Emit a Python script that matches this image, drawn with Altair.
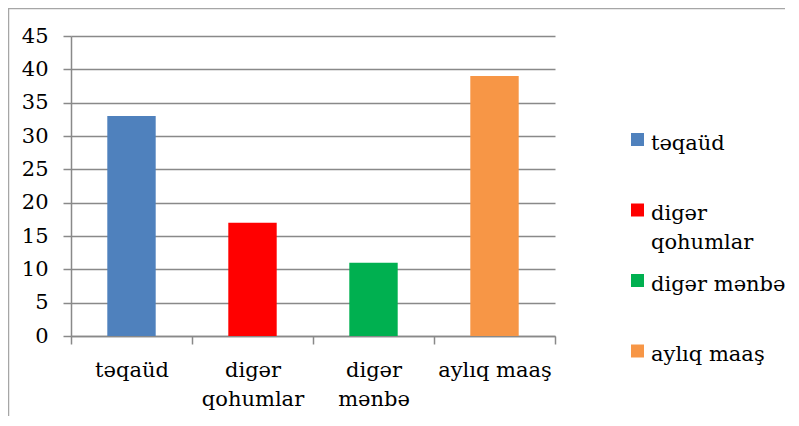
import altair as alt
import pandas as pd

categories = ["təqaüd", "digər qohumlar", "digər mənbə", "aylıq maaş"]
values = [33, 17, 11, 39]
colors = ["#4F81BD", "#FF0000", "#00B050", "#F79646"]
axis_labels = ["təqaüd", "digər\nqohumlar", "digər\nmənbə", "aylıq maaş"]
legend_labels = ["təqaüd", "digər\nqohumlar", "digər mənbə", "aylıq maaş"]
y_ticks = [0, 5, 10, 15, 20, 25, 30, 35, 40, 45]

df = pd.DataFrame({
    "cat": categories,
    "value": values,
    "xlab": axis_labels,
    "leg": legend_labels,
})

FONT = "DejaVu Serif"
FS = 21
GRAY = "#898989"
color_scale = alt.Scale(domain=categories, range=colors)

base = alt.Chart(df)

bars = base.mark_bar(width=alt.RelativeBandSize(0.4)).encode(
    x=alt.X("xlab:N", sort=axis_labels, title=None,
            scale=alt.Scale(paddingInner=0, paddingOuter=0),
            axis=alt.Axis(labelExpr="split(datum.label, '\\n')", labelAngle=0,
                          tickBand="extent", tickSize=8, labelPadding=15,
                          labelBaseline="top", labelLineHeight=29,
                          grid=False)),
    y=alt.Y("value:Q", title=None,
            scale=alt.Scale(domain=[0, 45], nice=False),
            axis=alt.Axis(values=y_ticks, tickSize=8, labelPadding=15, grid=True)),
    color=alt.Color("cat:N", scale=color_scale, legend=None),
)

leg_scale = alt.Scale(type="point", domain=categories, range=[103.5, 315], padding=0)

leg_sq = base.mark_square(size=169, opacity=1).encode(
    x=alt.value(566.5),
    y=alt.Y("cat:N", scale=leg_scale, axis=None),
    color=alt.Color("cat:N", scale=color_scale, legend=None),
)

leg_txt = base.mark_text(align="left", baseline="alphabetic", dy=10, lineBreak="\n",
                         lineHeight=28.5, font=FONT, fontSize=FS, color="black").encode(
    x=alt.value(580),
    y=alt.Y("cat:N", scale=leg_scale, axis=None),
    text="leg:N",
)

frame = alt.Chart(alt.Data(values=[{}])).mark_rect(
    filled=False, stroke="#a6a6a6", strokeWidth=1.5
).encode(
    x=alt.value(-62.5), x2=alt.value(900),
    y=alt.value(-27.5), y2=alt.value(600),
)

chart = alt.layer(frame, bars, leg_sq, leg_txt).resolve_scale(
    y="independent"
).properties(
    width=484, height=300,
    autosize=alt.AutoSizeParams(type="none"),
    padding={"left": 63, "top": 28, "right": 230, "bottom": 80},
).configure_view(stroke=None).configure_axis(
    labelFont=FONT, labelFontSize=FS, labelColor="black",
    domainColor=GRAY, tickColor=GRAY, gridColor=GRAY,
    domainWidth=1.5, tickWidth=1.5, gridWidth=1.5,
)

chart.save("out.html", embed_options={"renderer": "svg", "actions": False})
